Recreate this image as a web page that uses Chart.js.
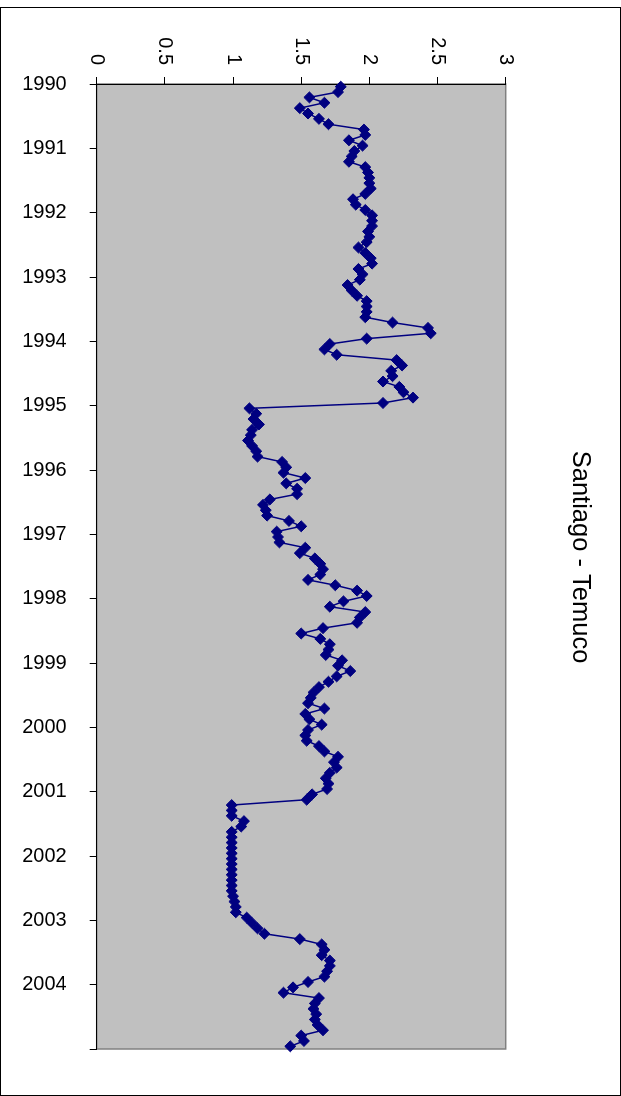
<!DOCTYPE html>
<html><head><meta charset="utf-8">
<script src="https://cdn.jsdelivr.net/npm/chart.js@4.4.1/dist/chart.umd.min.js"></script>
<style>
html,body{margin:0;padding:0;background:#fff;overflow:hidden;width:621px;height:1096px;}
#wrap{position:absolute;left:0;top:0;width:1096px;height:621px;transform-origin:0 0;transform:translateX(621px) rotate(90deg);}
canvas{display:block;width:1096px;height:621px;}
</style></head><body>
<div id="wrap"><canvas id="c" width="1096" height="621"></canvas></div>
<script>
const chartTitle = 'Santiago - Temuco';
const yearLabels = ['1990','1991','1992','1993','1994','1995','1996','1997','1998','1999','2000','2001','2002','2003','2004'];
const valueTicks = [0, 0.5, 1, 1.5, 2, 2.5, 3];
const v1990 = [1.79,1.77,1.56,1.67,1.49,1.55,1.63,1.70,1.96,1.97,1.85,1.95];
const v1991 = [1.89,1.87,1.85,1.97,1.99,2.00,2.00,2.01,1.97,1.88,1.90,1.97];
const v1992 = [2.02,2.02,2.02,1.99,2.00,1.98,1.92,1.97,2.01,2.02,1.92,1.95];
const v1993 = [1.93,1.84,1.87,1.91,1.98,1.98,1.98,1.97,2.17,2.43,2.45,1.98];
const v1994 = [1.71,1.67,1.76,2.20,2.24,2.16,2.17,2.10,2.22,2.25,2.32,2.10];
const v1995 = [1.12,1.17,1.15,1.19,1.14,1.13,1.11,1.14,1.17,1.18,1.36,1.39];
const v1996 = [1.37,1.53,1.39,1.47,1.47,1.27,1.22,1.24,1.25,1.41,1.50,1.32];
const v1997 = [1.33,1.34,1.53,1.49,1.60,1.64,1.66,1.64,1.55,1.75,1.91,1.98];
const v1998 = [1.81,1.71,1.97,1.93,1.91,1.66,1.50,1.64,1.71,1.70,1.68,1.80];
const v1999 = [1.77,1.86,1.76,1.70,1.63,1.59,1.57,1.55,1.67,1.53,1.56,1.65];
const v2000 = [1.55,1.53,1.54,1.63,1.67,1.77,1.74,1.76,1.71,1.68,1.70,1.69];
const v2001 = [1.58,1.54,0.99,0.99,0.99,1.08,1.06,0.99,0.99,0.99,0.99,0.99];
const v2002 = [0.99,0.99,0.99,0.99,0.99,0.99,0.99,1.00,1.01,1.02,1.02,1.10];
const v2003 = [1.14,1.18,1.23,1.49,1.65,1.67,1.65,1.71,1.71,1.69,1.67,1.55];
const v2004 = [1.44,1.37,1.63,1.60,1.59,1.61,1.60,1.62,1.66,1.50,1.52,1.42];
const values = [].concat(v1990,v1991,v1992,v1993,v1994,v1995,v1996,v1997,v1998,v1999,v2000,v2001,v2002,v2003,v2004);

const FONT = 'Liberation Sans, Arial, sans-serif';

const frame = {
  id: 'frame',
  beforeDraw(chart) {
    const ctx = chart.ctx, a = chart.chartArea;
    ctx.save();
    ctx.fillStyle = '#fff';
    ctx.fillRect(0, 0, chart.width, chart.height);
    ctx.strokeStyle = '#000';
    ctx.lineWidth = 1;
    ctx.strokeRect(7.5, 0.5, chart.width - 8, chart.height - 1);
    ctx.fillStyle = '#C0C0C0';
    ctx.fillRect(a.left, a.top, a.right - a.left, a.bottom - a.top);
    ctx.strokeStyle = '#808080';
    ctx.lineWidth = 1.5;
    ctx.strokeRect(a.left, a.top, a.right - a.left, a.bottom - a.top);
    ctx.restore();
  }
};

new Chart(document.getElementById('c'), {
  type: 'line',
  data: {
    datasets: [{
      data: values.map((v, i) => ({x: i + 0.5, y: v})),
      borderColor: '#000080',
      borderWidth: 1.5,
      pointStyle: 'rectRot',
      pointRadius: 5.5,
      pointBackgroundColor: '#000080',
      pointBorderColor: '#000080',
      pointBorderWidth: 1,
      tension: 0,
      clip: false
    }]
  },
  options: {
    responsive: false,
    devicePixelRatio: 1,
    animation: false,
    events: [],
    layout: { padding: { left: 18, right: 0, top: 0, bottom: 0 } },
    plugins: {
      legend: { display: false },
      tooltip: { enabled: false },
      title: {
        display: true,
        text: chartTitle,
        color: '#000',
        font: { family: FONT, size: 25.5, weight: 'normal', lineHeight: 1.2 },
        padding: { top: 25.7, bottom: 59 }
      }
    },
    scales: {
      x: {
        type: 'linear',
        position: 'bottom',
        min: 0,
        max: yearLabels.length * 12,
        afterFit(s) { s.height = 96.7; },
        afterBuildTicks(s) {
          s.ticks = yearLabels.map((_, i) => ({value: i * 12})).concat([{value: yearLabels.length * 12}]);
        },
        ticks: {
          autoSkip: false,
          minRotation: 90,
          maxRotation: 90,
          padding: 23,
          color: '#000',
          font: { family: FONT, size: 20 },
          callback: (val) => yearLabels[Math.round(val / 12)] ?? ''
        },
        grid: { drawOnChartArea: false, drawTicks: true, tickLength: 7, color: '#000', lineWidth: 1 },
        border: { display: true, color: '#000', width: 1 }
      },
      y: {
        type: 'linear',
        position: 'left',
        min: valueTicks[0],
        max: valueTicks[valueTicks.length - 1],
        afterFit(s) { s.width = 66; },
        afterBuildTicks(s) { s.ticks = valueTicks.map(v => ({value: v})); },
        ticks: {
          padding: 12,
          color: '#000',
          font: { family: FONT, size: 20 },
          callback: (val) => String(val)
        },
        grid: { drawOnChartArea: false, drawTicks: true, tickLength: 7, color: '#000', lineWidth: 1 },
        border: { display: true, color: '#000', width: 1 }
      },
      spacer: {
        type: 'linear',
        position: 'right',
        display: true,
        afterFit(s) { s.width = 29.3; },
        ticks: { display: false },
        grid: { display: false, drawTicks: false },
        border: { display: false }
      }
    }
  },
  plugins: [frame]
});
</script>
</body></html>
